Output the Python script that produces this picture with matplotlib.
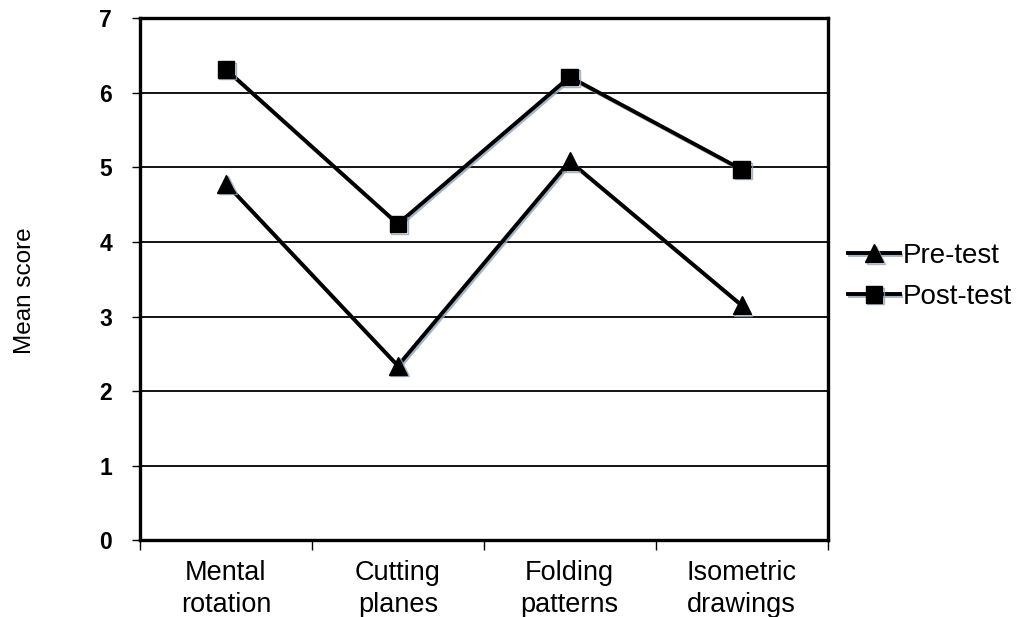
import matplotlib
matplotlib.use("Agg")
from matplotlib import pyplot as plt
import matplotlib.patheffects as pe
import numpy as np

categories = ["Mental\nrotation", "Cutting\nplanes", "Folding\npatterns", "Isometric\ndrawings"]
pre_test = [4.78, 2.34, 5.08, 3.15]
post_test = [6.31, 4.24, 6.21, 4.97]
y_ticks = [0, 1, 2, 3, 4, 5, 6, 7]

plt.rcParams['font.family'] = ['Liberation Sans', 'DejaVu Sans']

fig = plt.figure(figsize=(10.34, 6.17), dpi=100)
ax = fig.add_axes([0.1354, 0.124, 0.665, 0.847])

x = np.arange(len(categories))
shadow = [pe.SimpleLineShadow(offset=(1.2, -1.2), shadow_color='#8fa3b8', alpha=0.8), pe.Normal()]

ax.plot(x, pre_test, color='black', lw=2.8, marker='^', ms=13, label='Pre-test',
        path_effects=shadow, zorder=3)
ax.plot(x, post_test, color='black', lw=2.8, marker='s', ms=12, label='Post-test',
        path_effects=shadow, zorder=3)

ax.set_xlim(-0.5, len(categories) - 0.5)
ax.set_ylim(0, 7)
ax.set_yticks(y_ticks)
ax.set_yticklabels([str(v) for v in y_ticks], fontsize=16.5, fontweight='bold')
ax.yaxis.grid(True, color='black', lw=1.3)
ax.set_axisbelow(True)

# ticks on the bin edges, labels at the centres
ax.set_xticks(np.arange(-0.5, len(categories), 1.0))
ax.set_xticklabels([])
ax.set_xticks(x, minor=True)
ax.set_xticklabels(categories, minor=True, fontsize=19.5, linespacing=1.3)
ax.tick_params(axis='x', which='minor', length=0, pad=14)
ax.tick_params(axis='x', which='major', length=7, width=1.0, direction='out')
ax.tick_params(axis='y', length=6, width=1.0, pad=14)

for side in ['left', 'top', 'right', 'bottom']:
    ax.spines[side].set_linewidth(2.4)

ax.set_ylabel("Mean score", fontsize=17.5)
ax.yaxis.set_label_coords(-0.151, 0.478)

leg = ax.legend(loc='center left', bbox_to_anchor=(1.03, 0.505), frameon=False,
                fontsize=20, handlelength=1.85, handletextpad=0.1, labelspacing=0.55,
                borderaxespad=0, borderpad=0)

fig.savefig("out.png", dpi=100)
